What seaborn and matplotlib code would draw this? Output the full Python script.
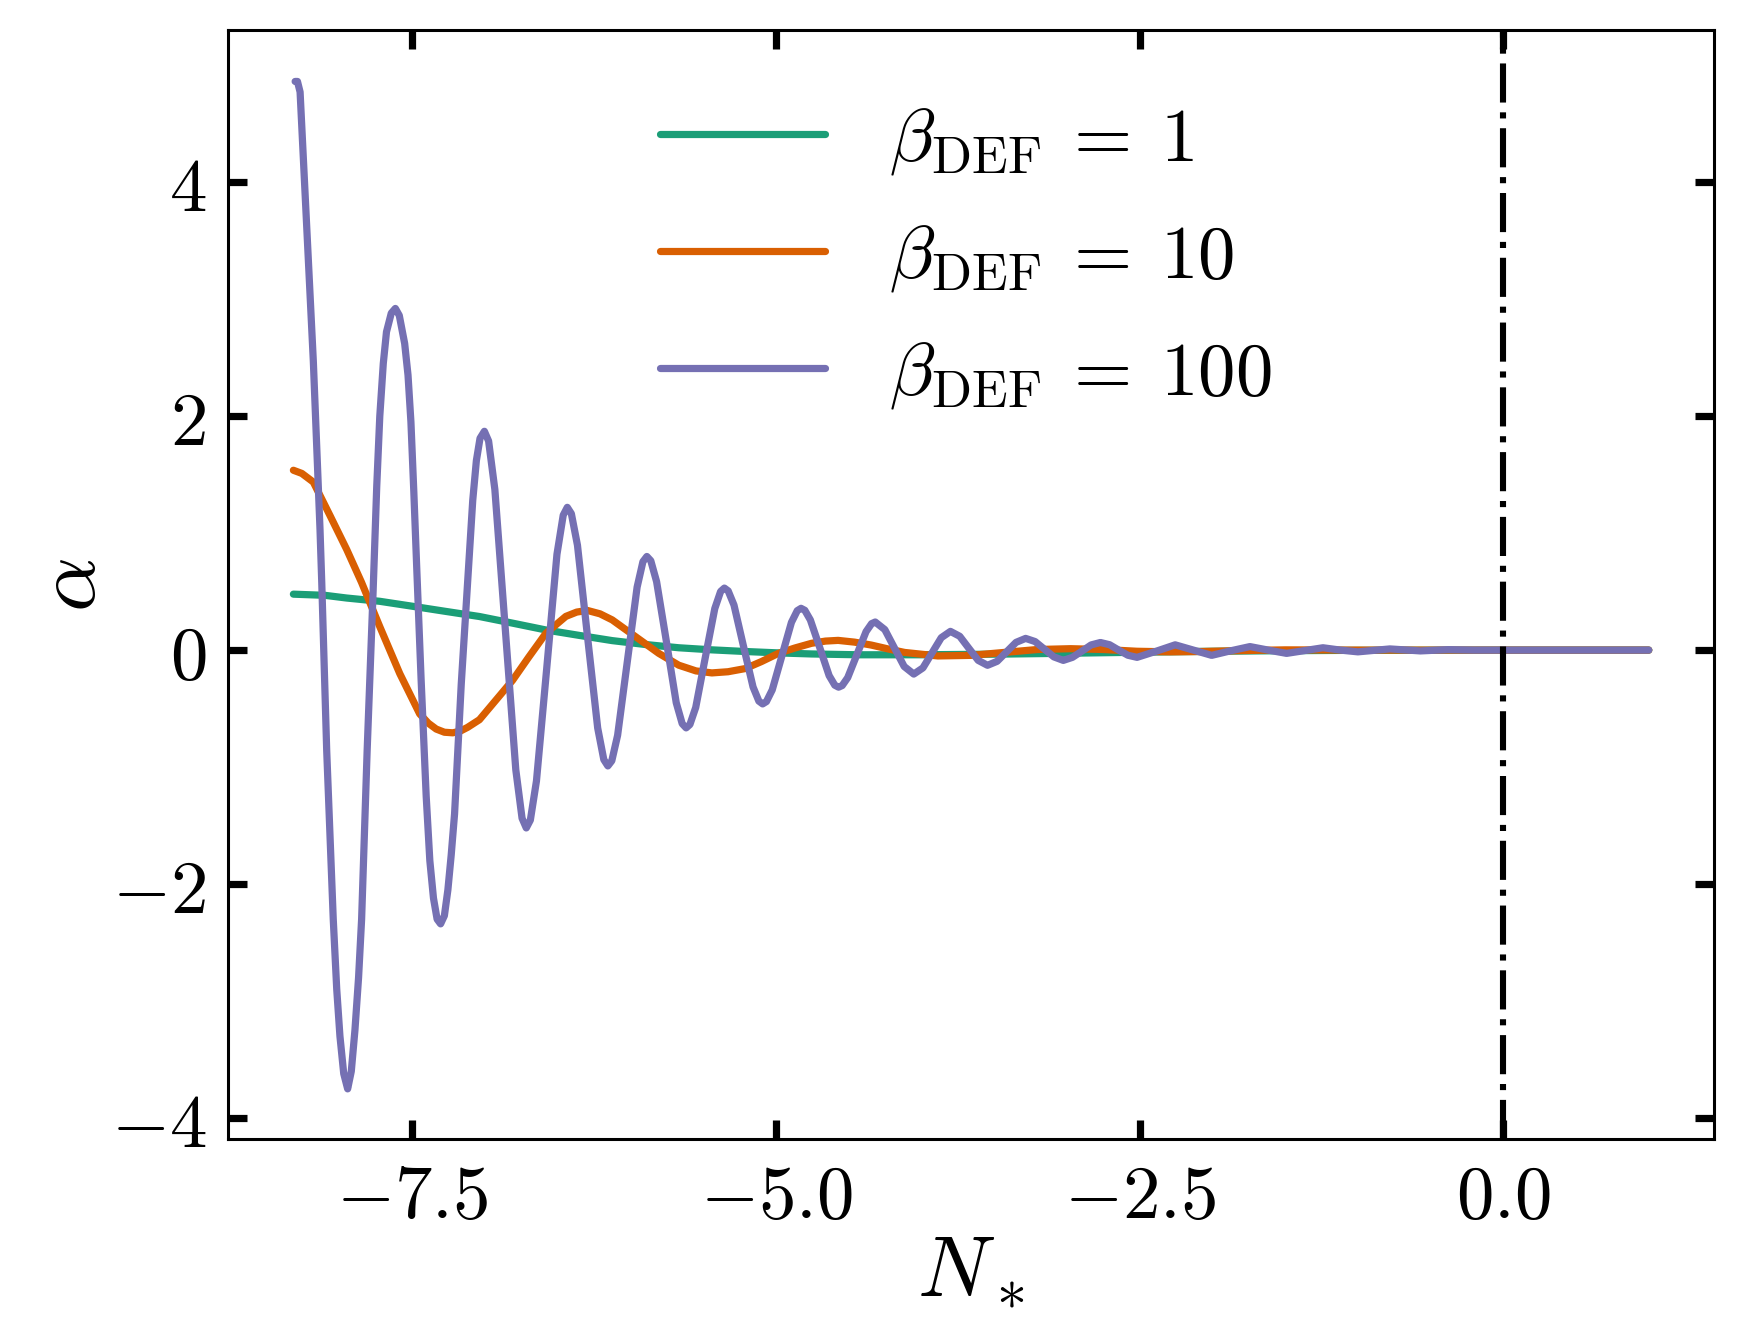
import numpy as np
import pandas as pd
import matplotlib
matplotlib.use("Agg")
import matplotlib.pyplot as plt
import seaborn as sns

# values
n_beta1 = [-8.318, -8.10, -7.952, -7.724, -7.496, -7.267, -7.039, -6.81, -6.582, -6.35,
           -6.126, -5.90, -5.669, -5.44, -5.212, -4.984, -4.756, -4.435, -4.0, -3.5,
           -3.0, -2.5, -2.0, -1.5, -1.0, 0.0, 1.0]
a_beta1 = [0.478, 0.468, 0.445, 0.417, 0.374, 0.330, 0.287, 0.230, 0.172, 0.125,
           0.081, 0.048, 0.020, 0.002, -0.012, -0.024, -0.033, -0.040, -0.040, -0.035,
           -0.027, -0.018, -0.010, -0.005, -0.002, 0.0, 0.0]

n_beta10 = [-8.318, -8.26, -8.181, -8.066, -7.952, -7.85, -7.724, -7.587, -7.45, -7.39,
            -7.336, -7.28, -7.222, -7.17, -7.12, -7.039, -6.811, -6.70, -6.582, -6.445,
            -6.37, -6.297, -6.21, -6.126, -6.05, -5.966, -5.806, -5.669, -5.55, -5.441,
            -5.33, -5.212, -5.10, -4.984, -4.87, -4.756, -4.66, -4.573, -4.46, -4.345,
            -4.23, -4.116, -3.888, -3.66, -3.432, -3.203, -2.975, -2.747, -2.518, -2.29,
            -2.06, -1.833, -1.5, -1.0, 0.0, 1.0]
a_beta10 = [1.537, 1.51, 1.436, 1.149, 0.861, 0.58, 0.20, -0.20, -0.545, -0.625,
            -0.675, -0.702, -0.707, -0.692, -0.66, -0.595, -0.258, -0.06, 0.144, 0.288,
            0.325, 0.339, 0.31, 0.258, 0.19, 0.115, -0.028, -0.129, -0.178, -0.195,
            -0.185, -0.158, -0.098, -0.028, 0.018, 0.058, 0.077, 0.083, 0.068, 0.043,
            0.01, -0.02, -0.05, -0.045, -0.02, 0.005, 0.012, 0.005, -0.01, -0.015,
            -0.012, -0.005, 0.002, 0.0, 0.0, 0.0]

n_beta100 = [-8.306, -8.29, -8.272, -8.249, -8.226, -8.203, -8.181, -8.158, -8.135, -8.123,
             -8.089, -8.044, -8.02, -7.998, -7.972, -7.945, -7.92, -7.895, -7.87, -7.849,
             -7.811, -7.77, -7.745, -7.724, -7.70, -7.678, -7.645, -7.617, -7.59, -7.553,
             -7.53, -7.51, -7.49, -7.47, -7.44, -7.405, -7.38, -7.355, -7.33, -7.306,
             -7.28, -7.256, -7.233, -7.21, -7.164, -7.119, -7.085, -7.06, -7.035, -7.005,
             -6.976, -6.933, -6.861, -6.789, -6.746, -6.717,
             -6.689, -6.647, -6.576, -6.506, -6.463, -6.435,
             -6.407, -6.365, -6.296, -6.226, -6.184, -6.156,
             -6.129, -6.089, -6.022, -5.955, -5.915, -5.888,
             -5.861, -5.821, -5.753, -5.686, -5.645, -5.618,
             -5.592, -5.552, -5.487, -5.421, -5.381, -5.355,
             -5.329, -5.289, -5.224, -5.158, -5.118, -5.092,
             -5.066, -5.026, -4.960, -4.894, -4.854, -4.828,
             -4.802, -4.764, -4.699, -4.635, -4.596, -4.570,
             -4.545, -4.507, -4.444, -4.381, -4.343, -4.318,
             -4.252, -4.186, -4.119, -4.053,
             -3.99, -3.927, -3.864, -3.801,
             -3.737, -3.674, -3.61, -3.546,
             -3.48, -3.415, -3.35, -3.284,
             -3.219, -3.155, -3.09, -3.025,
             -2.962, -2.898, -2.834, -2.77, -2.707, -2.644, -2.581, -2.518,
             -2.387, -2.256, -2.13, -2.005,
             -1.874, -1.742, -1.616, -1.49, -1.365, -1.24, -1.12, -1.00,
             -0.78, -0.57, -0.38, -0.2, 0.0, 0.5, 1.0]
a_beta100 = [4.86, 4.86, 4.77, 4.19, 3.62, 3.04, 2.47, 1.75, 1.03, 0.575,
             -0.86, -2.30, -2.90, -3.30, -3.62, -3.75, -3.60, -3.25, -2.80, -2.30,
             -0.86, 0.50, 1.40, 2.00, 2.45, 2.72, 2.88, 2.92, 2.86, 2.62,
             2.35, 1.95, 1.35, 0.70, -0.25, -1.25, -1.80, -2.12, -2.30, -2.34,
             -2.27, -2.05, -1.75, -1.40, -0.29, 0.60, 1.28, 1.62, 1.81, 1.87,
             1.787, 1.373, 0.175, -1.023, -1.437, -1.52,
             -1.453, -1.119, -0.15, 0.819, 1.153, 1.22,
             1.166, 0.896, 0.115, -0.666, -0.936, -0.99,
             -0.946, -0.728, -0.095, 0.538, 0.756, 0.80,
             0.764, 0.585, 0.068, -0.450, -0.629, -0.665,
             -0.636, -0.49, -0.068, 0.355, 0.501, 0.53,
             0.506, 0.385, 0.035, -0.315, -0.436, -0.46,
             -0.44, -0.34, -0.052, 0.237, 0.337, 0.357,
             0.34, 0.258, 0.02, -0.218, -0.30, -0.317,
             -0.303, -0.235, -0.039, 0.158, 0.226, 0.24,
             0.175, 0.018, -0.14, -0.205,
             -0.152, -0.023, 0.106, 0.16,
             0.118, 0.015, -0.088, -0.13,
             -0.096, -0.015, 0.066, 0.10,
             0.073, 0.008, -0.058, -0.088,
             -0.062, -0.01, 0.044, 0.065, 0.046, 0.0, -0.044, -0.062,
             -0.01, 0.045, 0.0, -0.045,
             -0.006, 0.03, 0.0, -0.028, -0.004, 0.02, 0.0, -0.015,
             0.01, -0.007, 0.004, 0.0, 0.0, 0.0, 0.0]

labels = [r"$\beta_{\rm DEF}\:=\:1$", r"$\beta_{\rm DEF}\:=\:10$", r"$\beta_{\rm DEF}\:=\:100$"]
colors = ["#1b9e77", "#d95f02", "#7570b3"]

x_ticks = [-7.5, -5.0, -2.5, 0.0]
x_ticklabels = [r"$-7.5$", r"$-5.0$", r"$-2.5$", r"$0.0$"]
y_ticks = [-4, -2, 0, 2, 4]
y_ticklabels = [r"$-4$", r"$-2$", r"$0$", r"$2$", r"$4$"]

frames = []
for n, a, lab in zip([n_beta1, n_beta10, n_beta100], [a_beta1, a_beta10, a_beta100], labels):
    frames.append(pd.DataFrame({"N": n, "alpha": a, "label": lab}))
df = pd.concat(frames, ignore_index=True)

sns.set_style("ticks")
plt.rcParams["mathtext.fontset"] = "cm"
plt.rcParams["font.family"] = ["DejaVu Serif"]
plt.rcParams["text.color"] = "black"
plt.rcParams["axes.labelcolor"] = "black"
plt.rcParams["xtick.color"] = "black"
plt.rcParams["ytick.color"] = "black"
plt.rcParams["axes.edgecolor"] = "black"

fig = plt.figure(figsize=(8.73, 6.69), dpi=200)
ax = fig.add_axes([0.1308, 0.1486, 0.851, 0.829])

sns.lineplot(data=df, x="N", y="alpha", hue="label", hue_order=labels,
             palette=colors, estimator=None, sort=False, linewidth=2.6, ax=ax)

ax.axvline(0.0, color="black", linestyle="-.", linewidth=2.2)

ax.set_xlim(-8.765, 1.45)
ax.set_ylim(-4.18, 5.30)
ax.set_xticks(x_ticks)
ax.set_xticklabels(x_ticklabels)
ax.set_yticks(y_ticks)
ax.set_yticklabels(y_ticklabels)
ax.tick_params(direction="in", length=7, width=2.6, labelsize=27,
               top=True, right=True, pad=8)
for sp in ax.spines.values():
    sp.set_linewidth(1.1)
    sp.set_visible(True)

ax.set_xlabel(r"$N_*$", fontsize=31, labelpad=-2)
ax.set_ylabel(r"$\alpha$", fontsize=31, labelpad=-1)

ax.legend(loc="upper left", bbox_to_anchor=(0.245, 0.995), frameon=False,
          fontsize=27, handlelength=2.2, handletextpad=0.85, labelspacing=0.58)

fig.savefig("out.png", dpi=200)
